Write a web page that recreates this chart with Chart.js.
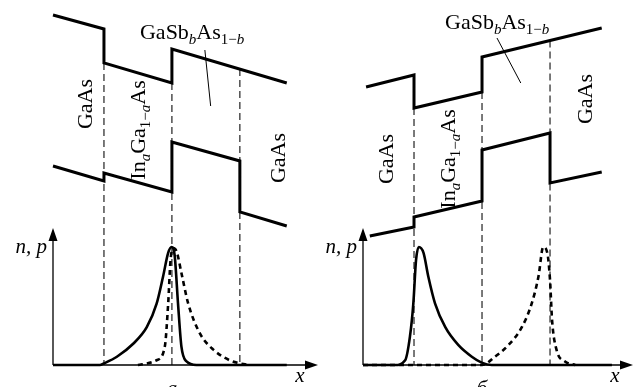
<!DOCTYPE html>
<html>
<head>
<meta charset="utf-8">
<script src="https://cdn.jsdelivr.net/npm/chart.js@4.4.0/dist/chart.umd.min.js"></script>
<style>
  body { margin: 0; background: #fff; }
  #wrap { position: relative; width: 635px; height: 387px; overflow: hidden; background: #fff; }
  canvas { position: absolute; top: 0; }
</style>
</head>
<body>
<div id="wrap">
  <canvas id="panelA" width="322" height="387" style="left:0"></canvas>
  <canvas id="panelB" width="313" height="387" style="left:322px"></canvas>
</div>
<script>
// x across the structure (arb. units), band energies E (arb. units), densities n, p normalised to peak
const interfaces = [7.5, 17.5, 27.5];

// panel а
const condA = [[0, 3.50], [7.5, 3.36], [7.5, 3.02], [17.5, 2.82], [17.5, 3.16], [34.4, 2.82]];
const valA  = [[0, 1.99], [7.5, 1.84], [7.5, 1.92], [17.5, 1.73], [17.5, 2.23], [27.5, 2.04], [27.5, 1.53], [34.4, 1.39]];
const nA = [[0, 0], [6.9, 0], [7.5, 0.014], [9.4, 0.07], [11.8, 0.18], [13.8, 0.32], [15.25, 0.52], [16.2, 0.75],
            [16.95, 0.95], [17.45, 1.0], [17.9, 0.93], [18.4, 0.52], [18.9, 0.155], [19.65, 0.03], [21.1, 0], [34.4, 0]];
const pA = [[12.5, 0], [15.25, 0.04], [16.45, 0.155], [16.95, 0.52], [17.3, 0.89], [17.7, 0.99], [18.2, 0.96],
            [18.9, 0.78], [19.9, 0.52], [21.6, 0.27], [23.6, 0.13], [26.0, 0.04], [27.5, 0.014], [29.0, 0]];

// panel б
const condB = [[0.45, 2.78], [7.5, 2.90], [7.5, 2.57], [17.5, 2.73], [17.5, 3.08], [35.1, 3.37]];
const valB  = [[1.0, 1.29], [7.5, 1.38], [7.5, 1.48], [17.5, 1.64], [17.5, 2.15], [27.5, 2.32], [27.5, 1.82], [35.1, 1.93]];
const nB = [[0, 0], [4.7, 0], [6.2, 0.04], [6.9, 0.24], [7.4, 0.52], [7.8, 0.89], [8.2, 1.0], [8.9, 0.95],
            [9.6, 0.75], [10.6, 0.52], [12.1, 0.32], [14.0, 0.17], [16.0, 0.07], [17.45, 0.02], [18.9, 0], [36.6, 0]];
const pB = [[0, 0], [17.5, 0], [19.4, 0.07], [21.4, 0.17], [23.35, 0.32], [24.8, 0.52], [25.8, 0.75], [26.5, 1.0],
            [27.1, 0.95], [27.5, 0.72], [27.8, 0.38], [28.45, 0.13], [29.7, 0.03], [31.2, 0]];

const SERIF = '"Liberation Serif", "DejaVu Serif", serif';

// rich text pieces: [text, italic?, subscript?]
const GAAS = [['GaAs']];
const INGAAS = [['In'], ['a', 1, 1], ['Ga'], ['1\u2212', 0, 1], ['a', 1, 1], ['As']];
const GASBAS = [['GaSb'], ['b', 1, 1], ['As'], ['1\u2212', 0, 1], ['b', 1, 1]];

const panels = [
  {
    id: 'panelA', pad: { left: 53, right: 4 }, xMax: 39, cond: condA, val: valA, n: nA, p: pA, letter: '\u0430',
    texts: [
      { parts: GAAS, x: 5.7, y: 2.61, rot: true },
      { parts: INGAAS, x: 13.5, y: 2.35, rot: true },
      { parts: GAAS, x: 34.1, y: 2.07, rot: true },
      { parts: GASBAS, x: 12.8, y: 3.26, align: 'left' }
    ],
    leader: [[22.35, 3.15], [23.2, 2.59]]
  },
  {
    id: 'panelB', pad: { left: 41, right: 2 }, xMax: 39.7, cond: condB, val: valB, n: nB, p: pB, letter: '\u0431',
    texts: [
      { parts: GAAS, x: 4.4, y: 2.06, rot: true },
      { parts: INGAAS, x: 13.5, y: 2.06, rot: true },
      { parts: GAAS, x: 33.7, y: 2.66, rot: true },
      { parts: GASBAS, x: 12.06, y: 3.36, align: 'left' }
    ],
    leader: [[19.7, 3.27], [23.2, 2.82]]
  }
];

function pts(arr) { return arr.map(([x, y]) => ({ x, y })); }

// lowest conduction-band energy at an interface position
function edgeAt(band, x) {
  const hits = band.filter(q => q[0] === x).map(q => q[1]);
  if (hits.length) return Math.min(...hits);
  for (let i = 0; i < band.length - 1; i++) {
    const [x0, y0] = band[i], [x1, y1] = band[i + 1];
    if (x >= x0 && x <= x1 && x1 > x0) return y0 + (y1 - y0) * (x - x0) / (x1 - x0);
  }
  return band[band.length - 1][1];
}

function drawRich(ctx, parts, x, y, rot, align) {
  ctx.save();
  ctx.translate(x, y);
  if (rot) ctx.rotate(-Math.PI / 2);
  const font = p => (p[1] ? 'italic ' : '') + (p[2] ? '15px ' : '22px ') + SERIF;
  const widths = parts.map(p => { ctx.font = font(p); return ctx.measureText(p[0]).width; });
  const total = widths.reduce((a, b) => a + b, 0);
  let cx = align === 'left' ? 0 : -total / 2;
  ctx.fillStyle = '#000';
  ctx.textBaseline = 'alphabetic';
  ctx.textAlign = 'left';
  parts.forEach((p, i) => {
    ctx.font = font(p);
    ctx.fillText(p[0], cx, p[2] ? 5 : 0);
    cx += widths[i];
  });
  ctx.restore();
}

const decor = {
  id: 'decor',
  beforeDatasetsDraw(chart) {
    const { ctx } = chart;
    const sx = chart.scales.x, sE = chart.scales.yE, sN = chart.scales.yN;
    const cfg = chart.options.plugins.decor;
    const base = sN.getPixelForValue(0);
    // interface dashed lines
    ctx.save();
    ctx.strokeStyle = '#222';
    ctx.lineWidth = 1.2;
    ctx.setLineDash([7, 4]);
    interfaces.forEach(xi => {
      const px = sx.getPixelForValue(xi);
      ctx.beginPath();
      ctx.moveTo(px, sE.getPixelForValue(edgeAt(cfg.cond, xi)));
      ctx.lineTo(px, base);
      ctx.stroke();
    });
    ctx.restore();
    // axes with arrows
    const x0 = sx.getPixelForValue(0);
    const xEnd = sx.getPixelForValue(cfg.xMax);
    const yTop = sN.getPixelForValue(1.16);
    ctx.save();
    ctx.strokeStyle = '#000';
    ctx.fillStyle = '#000';
    ctx.lineWidth = 1.3;
    ctx.beginPath();
    ctx.moveTo(x0, base); ctx.lineTo(xEnd - 8, base);
    ctx.moveTo(x0, base); ctx.lineTo(x0, yTop + 8);
    ctx.stroke();
    ctx.beginPath();
    ctx.moveTo(xEnd, base); ctx.lineTo(xEnd - 13, base - 4.5); ctx.lineTo(xEnd - 13, base + 4.5); ctx.closePath();
    ctx.moveTo(x0, yTop); ctx.lineTo(x0 - 4.5, yTop + 13); ctx.lineTo(x0 + 4.5, yTop + 13); ctx.closePath();
    ctx.fill();
    ctx.restore();
  },
  afterDraw(chart) {
    const { ctx } = chart;
    const sx = chart.scales.x, sE = chart.scales.yE, sN = chart.scales.yN;
    const cfg = chart.options.plugins.decor;
    cfg.texts.forEach(t => {
      drawRich(ctx, t.parts, sx.getPixelForValue(t.x), sE.getPixelForValue(t.y), t.rot, t.align);
    });
    // leader line to the GaSbAs label
    ctx.save();
    ctx.strokeStyle = '#000';
    ctx.lineWidth = 1;
    ctx.beginPath();
    ctx.moveTo(sx.getPixelForValue(cfg.leader[0][0]), sE.getPixelForValue(cfg.leader[0][1]));
    ctx.lineTo(sx.getPixelForValue(cfg.leader[1][0]), sE.getPixelForValue(cfg.leader[1][1]));
    ctx.stroke();
    ctx.restore();
    // axis labels
    ctx.save();
    ctx.fillStyle = '#000';
    ctx.font = 'italic 21px ' + SERIF;
    ctx.textAlign = 'right';
    ctx.fillText('n, p', sx.getPixelForValue(0) - 6, sN.getPixelForValue(0.95));
    ctx.textAlign = 'center';
    ctx.fillText('x', sx.getPixelForValue(cfg.xMax) - 18, sN.getPixelForValue(-0.144));
    ctx.fillText(cfg.letter, sx.getPixelForValue(17.5), sN.getPixelForValue(-0.25));
    ctx.restore();
  }
};

panels.forEach(pn => {
  const band = (arr) => ({
    data: pts(arr), yAxisID: 'yE', borderColor: '#000', borderWidth: 3,
    pointRadius: 0, tension: 0, fill: false, borderJoinStyle: 'miter', clip: false
  });
  const dens = (arr, dash) => ({
    data: pts(arr), yAxisID: 'yN', borderColor: '#000', borderWidth: 2.6,
    pointRadius: 0, cubicInterpolationMode: 'monotone', fill: false, borderDash: dash, clip: false
  });
  new Chart(document.getElementById(pn.id), {
    type: 'line',
    data: {
      datasets: [band(pn.cond), band(pn.val), dens(pn.p, [5, 4]), dens(pn.n, [])]
    },
    options: {
      responsive: false,
      animation: false,
      devicePixelRatio: 1,
      layout: { padding: { left: pn.pad.left, right: pn.pad.right, top: 0, bottom: 22 } },
      scales: {
        x: { type: 'linear', min: 0, max: pn.xMax, display: false },
        yE: { type: 'linear', min: 0, max: 3.65, display: false },
        yN: { type: 'linear', min: 0, max: 3.093, display: false }
      },
      plugins: {
        legend: { display: false },
        tooltip: { enabled: false },
        decor: pn
      }
    },
    plugins: [decor]
  });
});
</script>
</body>
</html>
